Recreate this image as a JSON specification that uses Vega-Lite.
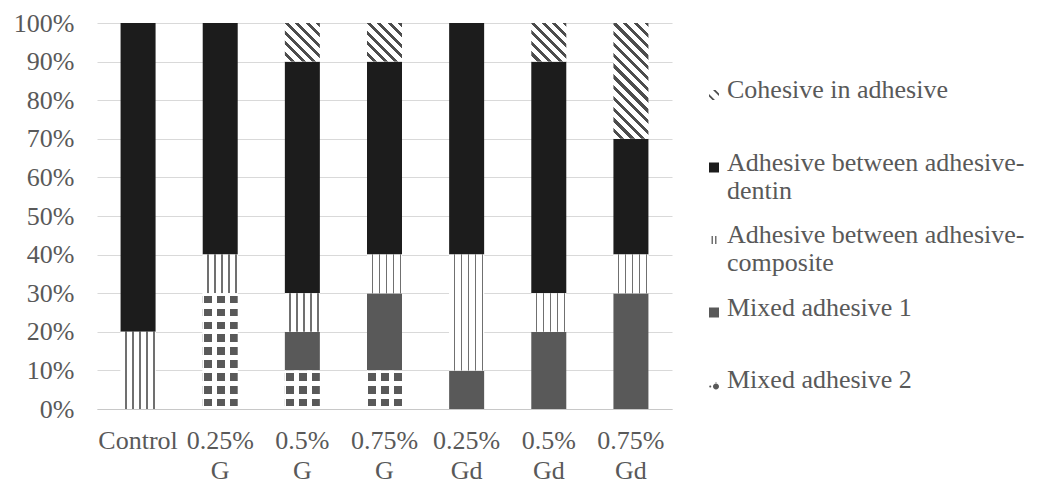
{
  "$schema": "https://vega.github.io/schema/vega-lite/v6.json",
  "width": 575,
  "height": 386,
  "autosize": {"type": "none"},
  "padding": {"left": 97, "top": 23, "right": 377, "bottom": 75},
  "background": "#ffffff",
  "config": {
    "view": {"stroke": null},
    "font": "Liberation Serif",
    "style": {"guide-label": {"lineHeight": 28}}
  },
  "data": {
    "values": [
      {"g": "Control", "s": "Adhesive between adhesive-composite", "k": 3, "v": 20},
      {"g": "Control", "s": "Adhesive between adhesive-dentin", "k": 4, "v": 80},
      {"g": "0.25% G", "s": "Mixed adhesive 2", "k": 1, "v": 30},
      {"g": "0.25% G", "s": "Adhesive between adhesive-composite", "k": 3, "v": 10},
      {"g": "0.25% G", "s": "Adhesive between adhesive-dentin", "k": 4, "v": 60},
      {"g": "0.5% G", "s": "Mixed adhesive 2", "k": 1, "v": 10},
      {"g": "0.5% G", "s": "Mixed adhesive 1", "k": 2, "v": 10},
      {"g": "0.5% G", "s": "Adhesive between adhesive-composite", "k": 3, "v": 10},
      {"g": "0.5% G", "s": "Adhesive between adhesive-dentin", "k": 4, "v": 60},
      {"g": "0.5% G", "s": "Cohesive in adhesive", "k": 5, "v": 10},
      {"g": "0.75% G", "s": "Mixed adhesive 2", "k": 1, "v": 10},
      {"g": "0.75% G", "s": "Mixed adhesive 1", "k": 2, "v": 20},
      {"g": "0.75% G", "s": "Adhesive between adhesive-composite", "k": 3, "v": 10},
      {"g": "0.75% G", "s": "Adhesive between adhesive-dentin", "k": 4, "v": 50},
      {"g": "0.75% G", "s": "Cohesive in adhesive", "k": 5, "v": 10},
      {"g": "0.25% Gd", "s": "Mixed adhesive 1", "k": 2, "v": 10},
      {"g": "0.25% Gd", "s": "Adhesive between adhesive-composite", "k": 3, "v": 30},
      {"g": "0.25% Gd", "s": "Adhesive between adhesive-dentin", "k": 4, "v": 60},
      {"g": "0.5% Gd", "s": "Mixed adhesive 1", "k": 2, "v": 20},
      {"g": "0.5% Gd", "s": "Adhesive between adhesive-composite", "k": 3, "v": 10},
      {"g": "0.5% Gd", "s": "Adhesive between adhesive-dentin", "k": 4, "v": 60},
      {"g": "0.5% Gd", "s": "Cohesive in adhesive", "k": 5, "v": 10},
      {"g": "0.75% Gd", "s": "Mixed adhesive 1", "k": 2, "v": 30},
      {"g": "0.75% Gd", "s": "Adhesive between adhesive-composite", "k": 3, "v": 10},
      {"g": "0.75% Gd", "s": "Adhesive between adhesive-dentin", "k": 4, "v": 30},
      {"g": "0.75% Gd", "s": "Cohesive in adhesive", "k": 5, "v": 30}
    ]
  },
  "transform": [
    {"stack": "v", "groupby": ["g"], "sort": [{"field": "k", "order": "ascending"}], "as": ["y0", "y1"]}
  ],
  "encoding": {
    "x": {
      "field": "g",
      "type": "nominal",
      "sort": null,
      "scale": {"paddingInner": 0, "paddingOuter": 0},
      "axis": {
        "title": null,
        "labelAngle": 0,
        "labelExpr": "split(datum.label, ' ')",
        "labelFont": "Liberation Serif",
        "labelFontSize": 26,
        "labelColor": "#595959",
        "labelLineHeight": 30,
        "labelBaseline": "top",
        "labelPadding": 18,
        "labelLimit": 200,
        "ticks": false,
        "domainColor": "#c8c8c8",
        "domainWidth": 1,
        "grid": false
      }
    },
    "y": {
      "field": "y0",
      "type": "quantitative",
      "scale": {"domain": [0, 100], "nice": false},
      "axis": {
        "title": null,
        "values": [0, 10, 20, 30, 40, 50, 60, 70, 80, 90, 100],
        "labelExpr": "datum.value + '%'",
        "labelFont": "Liberation Serif",
        "labelFontSize": 26,
        "labelColor": "#595959",
        "labelPadding": 23,
        "ticks": false,
        "domain": false,
        "gridColor": "#d9d9d9",
        "gridWidth": 1
      }
    }
  },
  "layer": [
    {
      "mark": {"type": "point", "filled": true, "strokeWidth": 0, "size": 0, "opacity": 1},
      "encoding": {
        "color": {
          "field": "s",
          "type": "nominal",
          "scale": {
            "domain": ["Cohesive in adhesive", "Adhesive between adhesive-dentin", "Adhesive between adhesive-composite", "Mixed adhesive 1", "Mixed adhesive 2"],
            "range": ["#4d4d4d", "#1c1c1c", "#707070", "#595959", "#595959"]
          },
          "legend": {
            "title": null,
            "orient": "none",
            "legendX": 604,
            "legendY": 54,
            "padding": 0,
            "symbolSize": 100,
            "symbolStrokeWidth": 0,
            "symbolOpacity": 1,
            "labelFont": "Liberation Serif",
            "labelFontSize": 26,
            "labelColor": "#595959",
            "labelLimit": 400,
            "labelOffset": 0,
            "labelBaseline": "middle",
            "rowPadding": 18.5,
            "labelExpr": "datum.label == 'Adhesive between adhesive-dentin' ? ['Adhesive between adhesive-', 'dentin'] : datum.label == 'Adhesive between adhesive-composite' ? ['Adhesive between adhesive-', 'composite'] : [datum.label, ' ']"
          }
        },
        "shape": {
          "field": "s",
          "type": "nominal",
          "scale": {
            "domain": ["Cohesive in adhesive", "Adhesive between adhesive-dentin", "Adhesive between adhesive-composite", "Mixed adhesive 1", "Mixed adhesive 2"],
            "range": [
              "M-0.2,0L0.3,0L1,0.7L1,1.2Z M-1,0.8L-1,1.3L-0.3,2L0.2,2Z",
              "M-1,0H1V2H-1Z",
              "M-0.5,0.2H-0.2V1.8H-0.5Z M0.2,0.2H0.5V1.8H0.2Z",
              "M-1,0H1V2H-1Z",
              "M-0.2,1.3A0.6,0.6,0,1,0,1,1.3A0.6,0.6,0,1,0,-0.2,1.3Z M0.4,0.35L0.6,0.8L0.2,0.8Z M-0.95,1.3A0.2,0.2,0,1,0,-0.55,1.3A0.2,0.2,0,1,0,-0.95,1.3Z"
            ]
          },
          "legend": {
            "title": null,
            "orient": "none",
            "legendX": 604,
            "legendY": 54,
            "padding": 0,
            "symbolSize": 100,
            "symbolStrokeWidth": 0,
            "symbolOpacity": 1,
            "labelFont": "Liberation Serif",
            "labelFontSize": 26,
            "labelColor": "#595959",
            "labelLimit": 400,
            "labelOffset": 0,
            "labelBaseline": "middle",
            "rowPadding": 18.5,
            "labelExpr": "datum.label == 'Adhesive between adhesive-dentin' ? ['Adhesive between adhesive-', 'dentin'] : datum.label == 'Adhesive between adhesive-composite' ? ['Adhesive between adhesive-', 'composite'] : [datum.label, ' ']"
          }
        }
      }
    },
    {
      "mark": {"type": "bar", "size": 35, "strokeWidth": 0},
      "encoding": {
        "y2": {"field": "y1"},
        "fill": {
          "field": "s",
          "type": "nominal",
          "scale": {
            "domain": ["Cohesive in adhesive", "Adhesive between adhesive-dentin", "Adhesive between adhesive-composite", "Mixed adhesive 1", "Mixed adhesive 2"],
            "range": ["#ffffff", "#1c1c1c", "#ffffff", "#595959", "#ffffff"]
          },
          "legend": null
        }
      }
    },
    {
      "transform": [{"filter": "datum.s == 'Cohesive in adhesive'"}],
      "mark": {"type": "bar", "size": 35, "strokeWidth": 0},
      "encoding": {
        "y2": {"field": "y1"},
        "fill": {
          "condition": {
            "test": "datum.v == 30",
            "value": {"gradient": "linear", "x1": 0, "y1": 1, "x2": 0.3606, "y2": -0.1932, "stops": [
              {"offset": 0, "color": "#ffffff"}, {"offset": 0.0429, "color": "#ffffff"}, {"offset": 0.0429, "color": "#4d4d4d"}, {"offset": 0.0714, "color": "#4d4d4d"},
              {"offset": 0.0714, "color": "#ffffff"}, {"offset": 0.1143, "color": "#ffffff"}, {"offset": 0.1143, "color": "#4d4d4d"}, {"offset": 0.1429, "color": "#4d4d4d"},
              {"offset": 0.1429, "color": "#ffffff"}, {"offset": 0.1857, "color": "#ffffff"}, {"offset": 0.1857, "color": "#4d4d4d"}, {"offset": 0.2143, "color": "#4d4d4d"},
              {"offset": 0.2143, "color": "#ffffff"}, {"offset": 0.2571, "color": "#ffffff"}, {"offset": 0.2571, "color": "#4d4d4d"}, {"offset": 0.2857, "color": "#4d4d4d"},
              {"offset": 0.2857, "color": "#ffffff"}, {"offset": 0.3286, "color": "#ffffff"}, {"offset": 0.3286, "color": "#4d4d4d"}, {"offset": 0.3571, "color": "#4d4d4d"},
              {"offset": 0.3571, "color": "#ffffff"}, {"offset": 0.4, "color": "#ffffff"}, {"offset": 0.4, "color": "#4d4d4d"}, {"offset": 0.4286, "color": "#4d4d4d"},
              {"offset": 0.4286, "color": "#ffffff"}, {"offset": 0.4714, "color": "#ffffff"}, {"offset": 0.4714, "color": "#4d4d4d"}, {"offset": 0.5, "color": "#4d4d4d"},
              {"offset": 0.5, "color": "#ffffff"}, {"offset": 0.5429, "color": "#ffffff"}, {"offset": 0.5429, "color": "#4d4d4d"}, {"offset": 0.5714, "color": "#4d4d4d"},
              {"offset": 0.5714, "color": "#ffffff"}, {"offset": 0.6143, "color": "#ffffff"}, {"offset": 0.6143, "color": "#4d4d4d"}, {"offset": 0.6429, "color": "#4d4d4d"},
              {"offset": 0.6429, "color": "#ffffff"}, {"offset": 0.6857, "color": "#ffffff"}, {"offset": 0.6857, "color": "#4d4d4d"}, {"offset": 0.7143, "color": "#4d4d4d"},
              {"offset": 0.7143, "color": "#ffffff"}, {"offset": 0.7571, "color": "#ffffff"}, {"offset": 0.7571, "color": "#4d4d4d"}, {"offset": 0.7857, "color": "#4d4d4d"},
              {"offset": 0.7857, "color": "#ffffff"}, {"offset": 0.8286, "color": "#ffffff"}, {"offset": 0.8286, "color": "#4d4d4d"}, {"offset": 0.8571, "color": "#4d4d4d"},
              {"offset": 0.8571, "color": "#ffffff"}, {"offset": 0.9, "color": "#ffffff"}, {"offset": 0.9, "color": "#4d4d4d"}, {"offset": 0.9286, "color": "#4d4d4d"},
              {"offset": 0.9286, "color": "#ffffff"}, {"offset": 0.9714, "color": "#ffffff"}, {"offset": 0.9714, "color": "#4d4d4d"}, {"offset": 1, "color": "#4d4d4d"}]}
          },
          "value": {"gradient": "linear", "x1": 0, "y1": 1, "x2": 0.9486, "y2": -0.0463, "stops": [
            {"offset": 0, "color": "#ffffff"}, {"offset": 0.0857, "color": "#ffffff"}, {"offset": 0.0857, "color": "#4d4d4d"}, {"offset": 0.1429, "color": "#4d4d4d"},
            {"offset": 0.1429, "color": "#ffffff"}, {"offset": 0.2286, "color": "#ffffff"}, {"offset": 0.2286, "color": "#4d4d4d"}, {"offset": 0.2857, "color": "#4d4d4d"},
            {"offset": 0.2857, "color": "#ffffff"}, {"offset": 0.3714, "color": "#ffffff"}, {"offset": 0.3714, "color": "#4d4d4d"}, {"offset": 0.4286, "color": "#4d4d4d"},
            {"offset": 0.4286, "color": "#ffffff"}, {"offset": 0.5143, "color": "#ffffff"}, {"offset": 0.5143, "color": "#4d4d4d"}, {"offset": 0.5714, "color": "#4d4d4d"},
            {"offset": 0.5714, "color": "#ffffff"}, {"offset": 0.6571, "color": "#ffffff"}, {"offset": 0.6571, "color": "#4d4d4d"}, {"offset": 0.7143, "color": "#4d4d4d"},
            {"offset": 0.7143, "color": "#ffffff"}, {"offset": 0.8, "color": "#ffffff"}, {"offset": 0.8, "color": "#4d4d4d"}, {"offset": 0.8571, "color": "#4d4d4d"},
            {"offset": 0.8571, "color": "#ffffff"}, {"offset": 0.9429, "color": "#ffffff"}, {"offset": 0.9429, "color": "#4d4d4d"}, {"offset": 1, "color": "#4d4d4d"}]}
        }
      }
    },
    {
      "transform": [{"filter": "datum.s == 'Adhesive between adhesive-composite'"}],
      "mark": {"type": "bar", "size": 35, "strokeWidth": 0},
      "encoding": {
        "y2": {"field": "y1"},
        "fill": {
          "value": {"gradient": "linear", "x1": 0, "y1": 0, "x2": 1, "y2": 0, "stops": [
            {"offset": 0, "color": "#ffffff"}, {"offset": 0.129, "color": "#ffffff"}, {"offset": 0.129, "color": "#707070"}, {"offset": 0.171, "color": "#707070"},
            {"offset": 0.171, "color": "#ffffff"}, {"offset": 0.329, "color": "#ffffff"}, {"offset": 0.329, "color": "#707070"}, {"offset": 0.371, "color": "#707070"},
            {"offset": 0.371, "color": "#ffffff"}, {"offset": 0.529, "color": "#ffffff"}, {"offset": 0.529, "color": "#707070"}, {"offset": 0.571, "color": "#707070"},
            {"offset": 0.571, "color": "#ffffff"}, {"offset": 0.729, "color": "#ffffff"}, {"offset": 0.729, "color": "#707070"}, {"offset": 0.771, "color": "#707070"},
            {"offset": 0.771, "color": "#ffffff"}, {"offset": 0.929, "color": "#ffffff"}, {"offset": 0.929, "color": "#707070"}, {"offset": 0.971, "color": "#707070"},
            {"offset": 0.971, "color": "#ffffff"}, {"offset": 1, "color": "#ffffff"}]}
        }
      }
    },
    {
      "transform": [{"filter": "datum.s == 'Mixed adhesive 2'"}],
      "mark": {"type": "bar", "size": 35, "strokeWidth": 0},
      "encoding": {
        "y2": {"field": "y1"},
        "fill": {
          "condition": {
            "test": "datum.v == 30",
            "value": {"gradient": "linear", "x1": 0, "y1": 0, "x2": 0, "y2": 1, "stops": [
              {"offset": 0, "color": "#ffffff"}, {"offset": 0.0222, "color": "#ffffff"}, {"offset": 0.0222, "color": "#595959"}, {"offset": 0.0889, "color": "#595959"},
              {"offset": 0.0889, "color": "#ffffff"}, {"offset": 0.1333, "color": "#ffffff"}, {"offset": 0.1333, "color": "#595959"}, {"offset": 0.2, "color": "#595959"},
              {"offset": 0.2, "color": "#ffffff"}, {"offset": 0.2444, "color": "#ffffff"}, {"offset": 0.2444, "color": "#595959"}, {"offset": 0.3111, "color": "#595959"},
              {"offset": 0.3111, "color": "#ffffff"}, {"offset": 0.3556, "color": "#ffffff"}, {"offset": 0.3556, "color": "#595959"}, {"offset": 0.4222, "color": "#595959"},
              {"offset": 0.4222, "color": "#ffffff"}, {"offset": 0.4667, "color": "#ffffff"}, {"offset": 0.4667, "color": "#595959"}, {"offset": 0.5333, "color": "#595959"},
              {"offset": 0.5333, "color": "#ffffff"}, {"offset": 0.5778, "color": "#ffffff"}, {"offset": 0.5778, "color": "#595959"}, {"offset": 0.6444, "color": "#595959"},
              {"offset": 0.6444, "color": "#ffffff"}, {"offset": 0.6889, "color": "#ffffff"}, {"offset": 0.6889, "color": "#595959"}, {"offset": 0.7556, "color": "#595959"},
              {"offset": 0.7556, "color": "#ffffff"}, {"offset": 0.8, "color": "#ffffff"}, {"offset": 0.8, "color": "#595959"}, {"offset": 0.8667, "color": "#595959"},
              {"offset": 0.8667, "color": "#ffffff"}, {"offset": 0.9111, "color": "#ffffff"}, {"offset": 0.9111, "color": "#595959"}, {"offset": 0.9778, "color": "#595959"},
              {"offset": 0.9778, "color": "#ffffff"}, {"offset": 1, "color": "#ffffff"}]}
          },
          "value": {"gradient": "linear", "x1": 0, "y1": 0, "x2": 0, "y2": 1, "stops": [
            {"offset": 0, "color": "#ffffff"}, {"offset": 0.0667, "color": "#ffffff"}, {"offset": 0.0667, "color": "#595959"}, {"offset": 0.2667, "color": "#595959"},
            {"offset": 0.2667, "color": "#ffffff"}, {"offset": 0.4, "color": "#ffffff"}, {"offset": 0.4, "color": "#595959"}, {"offset": 0.6, "color": "#595959"},
            {"offset": 0.6, "color": "#ffffff"}, {"offset": 0.7333, "color": "#ffffff"}, {"offset": 0.7333, "color": "#595959"}, {"offset": 0.9333, "color": "#595959"},
            {"offset": 0.9333, "color": "#ffffff"}, {"offset": 1, "color": "#ffffff"}]}
        }
      }
    },
    {
      "transform": [{"filter": "datum.s == 'Mixed adhesive 2'"}],
      "mark": {"type": "bar", "size": 35, "strokeWidth": 0},
      "encoding": {
        "y2": {"field": "y1"},
        "fill": {
          "value": {"gradient": "linear", "x1": 0, "y1": 0, "x2": 1, "y2": 0, "stops": [
            {"offset": 0, "color": "#ffffff"}, {"offset": 0.029, "color": "#ffffff"}, {"offset": 0.029, "color": "rgba(255,255,255,0)"}, {"offset": 0.257, "color": "rgba(255,255,255,0)"},
            {"offset": 0.257, "color": "#ffffff"}, {"offset": 0.4, "color": "#ffffff"}, {"offset": 0.4, "color": "rgba(255,255,255,0)"}, {"offset": 0.629, "color": "rgba(255,255,255,0)"},
            {"offset": 0.629, "color": "#ffffff"}, {"offset": 0.771, "color": "#ffffff"}, {"offset": 0.771, "color": "rgba(255,255,255,0)"}, {"offset": 1, "color": "rgba(255,255,255,0)"}]}
        }
      }
    }
  ]
}
